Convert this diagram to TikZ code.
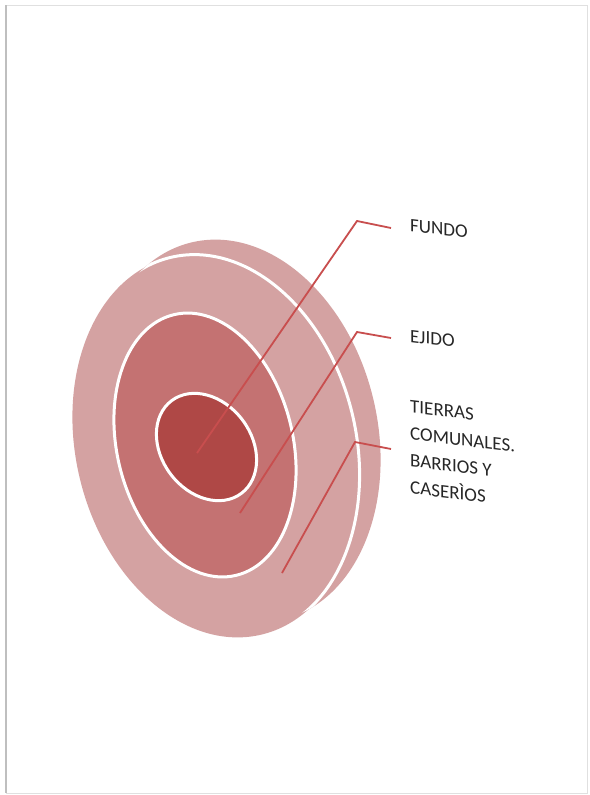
\documentclass[tikz,border=0pt]{standalone}
\usepackage{fontspec}
\setmainfont{Carlito}
\definecolor{outerc}{RGB}{212,162,162}
\definecolor{midc}{RGB}{196,114,114}
\definecolor{innc}{RGB}{175,72,70}
\definecolor{linec}{RGB}{200,78,78}
\definecolor{textc}{RGB}{38,38,38}
\begin{document}
\begin{tikzpicture}[x=1pt,y=-1pt,
  ring/.style={draw=white, line width=3pt},
  leader/.style={draw=linec, line width=1.8pt},
  lbl/.style={font=\fontsize{19}{27}\selectfont, text=textc, inner sep=0pt, yslant=-0.12, align=left}]
\useasboundingbox (0,0) rectangle (589,795);
\fill[white] (0,0) rectangle (589,795);
% page frame
\draw[black!12, line width=1pt] (6,5) rectangle (587,793);
\draw[black!25, line width=1.5pt] (6,5) -- (6,793);
% back disk
\fill[outerc, shift={(237,431)}, rotate=-76.3] (0,0) ellipse [x radius=194pt, y radius=140pt];
% front disk
\fill[outerc, shift={(216,446)}, rotate=-76.3] (0,0) ellipse [x radius=194pt, y radius=140pt];
% white arc between the two disks
\begin{scope}
\clip[shift={(237,431)}, rotate=-76.3] (0,0) ellipse [x radius=194pt, y radius=140pt];
\draw[white, line width=3pt, shift={(216,446)}, rotate=-76.3] (0,0) ellipse [x radius=194pt, y radius=140pt];
\end{scope}
% middle ring
\draw[ring, fill=midc, shift={(205,445)}, rotate=-76.6] (0,0) ellipse [x radius=134pt, y radius=88pt];
% inner core
\draw[ring, fill=innc, shift={(206.5,447)}, rotate=-53] (0,0) ellipse [x radius=58pt, y radius=45pt];
% leader lines
\coordinate (f1) at (197,453);
\coordinate (f2) at (357,221);
\coordinate (f3) at (391,228);
\coordinate (e1) at (240,513);
\coordinate (e2) at (357,332);
\coordinate (e3) at (391,338);
\coordinate (t1) at (282,573);
\coordinate (t2) at (355,442);
\coordinate (t3) at (391,449);
\draw[leader] (f1) -- (f2) -- (f3);
\draw[leader] (e1) -- (e2) -- (e3);
\draw[leader] (t1) -- (t2) -- (t3);
% labels
\node[lbl, anchor=base west] (fundo) at (410,231) {FUNDO};
\node[lbl, anchor=base west] (ejido) at (410,342) {EJIDO};
\node[lbl, anchor=north west] (tierras) at (410,400) {TIERRAS\\COMUNALES.\\BARRIOS Y\\CASERÌOS};
\end{tikzpicture}
\end{document}
